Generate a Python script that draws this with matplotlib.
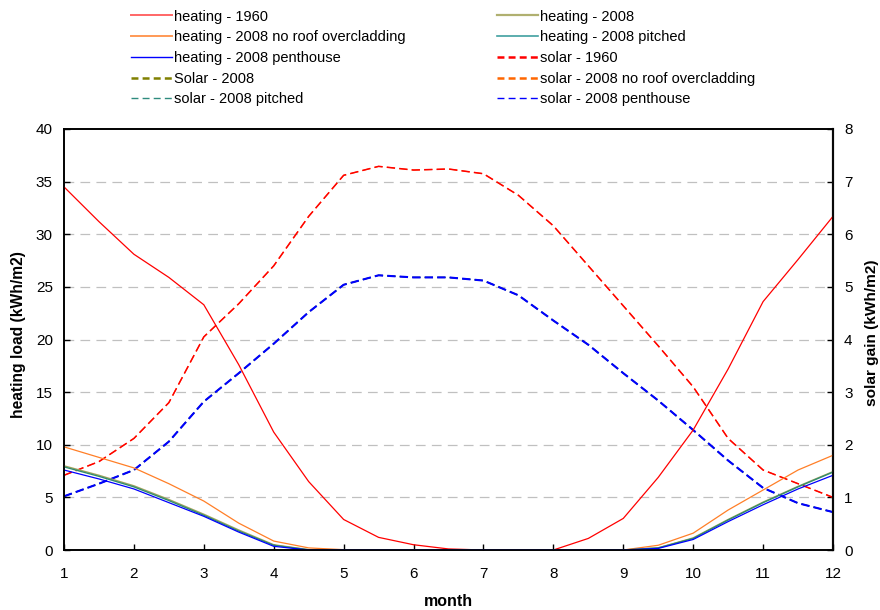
import matplotlib
matplotlib.use("Agg")
import matplotlib.pyplot as plt
from matplotlib.lines import Line2D

plt.rcParams['font.family'] = ['Liberation Sans', 'DejaVu Sans']
plt.rcParams['lines.scale_dashes'] = False

# ---- data ----
months = [1, 1.5, 2, 2.5, 3, 3.5, 4, 4.5, 5, 5.5, 6, 6.5, 7, 7.5, 8, 8.5, 9, 9.5, 10, 10.5, 11, 11.5, 12]

heating_1960 = [34.5, 31.2, 28.1, 25.9, 23.3, 17.6, 11.2, 6.5, 2.9, 1.2, 0.5, 0.1, 0.0, 0.0, 0.0, 1.1, 3.0, 6.9, 11.4, 17.2, 23.6, 27.6, 31.7]
heating_2008 = [8.0, 7.1, 6.1, 4.8, 3.4, 1.9, 0.5, 0.03, 0.0, 0.0, 0.0, 0.0, 0.0, 0.0, 0.0, 0.0, 0.0, 0.2, 1.15, 2.9, 4.55, 6.05, 7.45]
heating_2008_noroof = [9.8, 8.8, 7.8, 6.3, 4.65, 2.55, 0.85, 0.2, 0.03, 0.0, 0.0, 0.0, 0.0, 0.0, 0.0, 0.0, 0.0, 0.45, 1.6, 3.8, 5.7, 7.6, 9.0]
heating_2008_pitched = [7.9, 7.0, 6.0, 4.7, 3.3, 1.8, 0.45, 0.02, 0.0, 0.0, 0.0, 0.0, 0.0, 0.0, 0.0, 0.0, 0.0, 0.2, 1.1, 2.85, 4.5, 6.0, 7.4]
heating_2008_penthouse = [7.6, 6.75, 5.8, 4.5, 3.2, 1.7, 0.35, 0.0, 0.0, 0.0, 0.0, 0.0, 0.0, 0.0, 0.0, 0.0, 0.0, 0.15, 1.0, 2.7, 4.3, 5.8, 7.1]

solar_1960 = [1.42, 1.68, 2.12, 2.80, 4.05, 4.68, 5.40, 6.34, 7.12, 7.29, 7.22, 7.24, 7.15, 6.74, 6.16, 5.40, 4.64, 3.88, 3.10, 2.12, 1.52, 1.26, 1.00]
solar_2008 = [1.02, 1.26, 1.52, 2.06, 2.82, 3.36, 3.92, 4.52, 5.04, 5.22, 5.18, 5.18, 5.12, 4.84, 4.36, 3.90, 3.36, 2.84, 2.28, 1.70, 1.18, 0.89, 0.72]
solar_2008_noroof = [1.42, 1.68, 2.12, 2.80, 4.05, 4.68, 5.40, 6.34, 7.12, 7.29, 7.22, 7.24, 7.15, 6.74, 6.16, 5.40, 4.64, 3.88, 3.10, 2.12, 1.52, 1.26, 1.00]
solar_2008_pitched = [1.02, 1.26, 1.52, 2.06, 2.82, 3.36, 3.92, 4.52, 5.04, 5.22, 5.18, 5.18, 5.12, 4.84, 4.36, 3.90, 3.36, 2.84, 2.28, 1.70, 1.18, 0.89, 0.72]
solar_2008_penthouse = [1.02, 1.26, 1.52, 2.06, 2.82, 3.36, 3.92, 4.52, 5.04, 5.22, 5.18, 5.18, 5.12, 4.84, 4.36, 3.90, 3.36, 2.84, 2.28, 1.70, 1.18, 0.89, 0.72]

left_ticks = [0, 5, 10, 15, 20, 25, 30, 35, 40]
right_ticks = [0, 1, 2, 3, 4, 5, 6, 7, 8]
month_ticks = [1, 2, 3, 4, 5, 6, 7, 8, 9, 10, 11, 12]

# ---- figure ----
fig = plt.figure(figsize=(8.8, 6.1), dpi=100)
W, H = 880, 610
x0, x1, yb, yt = 64, 833, 550, 129
ax = fig.add_axes([x0 / W, 1 - yb / H, (x1 - x0) / W, (yb - yt) / H])
ax2 = ax.twinx()

ax.set_xlim(1, 12)
ax.set_ylim(0, 40)
ax2.set_ylim(0, 8)
ax.set_xticks(month_ticks)
ax.set_yticks(left_ticks)
ax2.set_yticks(right_ticks)

grid_dash = (0, (7, 4.5))
for v in left_ticks[1:-1]:
    ax2.axhline(v / 5.0, color='#C0C0C0', lw=0.9, ls=grid_dash, zorder=0)

c_red = '#FF0000'
c_olive = '#A3A35C'
c_orange = '#FF7F27'
c_teal = '#2E8B6E'
c_blue = '#0000FF'

# solar (right axis) - hidden ones first
s_olive, = ax2.plot(months, solar_2008, color='#808000', lw=1.0, dashes=(6, 3))
s_pitch, = ax2.plot(months, solar_2008_pitched, color='#008080', lw=0.8, dashes=(6, 3))
s_orange, = ax2.plot(months, solar_2008_noroof, color='#FF6600', lw=0.8, dashes=(6, 3))
s_red, = ax2.plot(months, solar_1960, color=c_red, lw=1.1, dashes=(6, 3))
s_blue, = ax2.plot(months, solar_2008_penthouse, color=c_blue, lw=1.5, dashes=(6, 3))

# heating (left axis) drawn on top
ax.set_zorder(ax2.get_zorder() + 1)
ax.patch.set_visible(False)
h_red, = ax.plot(months, heating_1960, color=c_red, lw=0.9)
h_olive, = ax.plot(months, heating_2008, color=c_olive, lw=1.0)
h_orange, = ax.plot(months, heating_2008_noroof, color=c_orange, lw=0.9)
h_teal, = ax.plot(months, heating_2008_pitched, color=c_teal, lw=1.0)
h_blue, = ax.plot(months, heating_2008_penthouse, color=c_blue, lw=0.9)

# spines & ticks
for a in (ax, ax2):
    for s in a.spines.values():
        s.set_linewidth(1.2)
        s.set_color('black')
ax2.spines['right'].set_color('#333333')
ax2.spines['right'].set_linewidth(1.6)

ax.tick_params(axis='x', direction='in', length=4.5, width=1, labelsize=11, pad=12, top=False)
ax.tick_params(axis='y', direction='in', length=4, width=1, labelsize=11, pad=8)
ax2.tick_params(axis='y', direction='in', length=4, width=1, labelsize=11, pad=8)

ax.set_xlabel('month', fontsize=11.5, fontweight='bold', va='center', ha='center')
ax.xaxis.set_label_coords(0.5, (yb - 601) / (yb - yt))
ax.set_ylabel('heating load (kWh/m2)', fontsize=11.25, fontweight='bold', va='center', ha='center')
ax.yaxis.set_label_coords((18.5 - x0) / (x1 - x0), (yb - 335) / (yb - yt))
ax2.set_ylabel('solar gain (kWh/m2)', fontsize=11.1, fontweight='bold', rotation=90, va='center', ha='center')
ax2.yaxis.set_label_coords((871.5 - x0) / (x1 - x0), (yb - 332.5) / (yb - yt))

# legend handles
def lh(color, lw, dashed=False):
    if dashed:
        return Line2D([], [], color=color, lw=lw, dashes=(5, 3))
    return Line2D([], [], color=color, lw=lw)

col1 = [(lh('#FF6666', 1.4), 'heating - 1960'),
        (lh('#FF9955', 1.4), 'heating - 2008 no roof overcladding'),
        (lh(c_blue, 1.0), 'heating - 2008 penthouse'),
        (lh('#808000', 1.8, True), 'Solar - 2008'),
        (lh('#2E8B7E', 1.0, True), 'solar - 2008 pitched')]
col2 = [(lh('#B0B070', 1.6), 'heating - 2008'),
        (lh('#40A0A0', 1.2), 'heating - 2008 pitched'),
        (lh(c_red, 1.8, True), 'solar - 1960'),
        (lh('#FF6600', 1.8, True), 'solar - 2008 no roof overcladding'),
        (lh(c_blue, 1.0, True), 'solar - 2008 penthouse')]

common = dict(loc='upper left', frameon=False, fontsize=10.5, borderpad=0, borderaxespad=0,
              handlelength=2.8, handletextpad=0.15, labelspacing=0.46)
fig.legend([h for h, _ in col1], [t for _, t in col1], bbox_to_anchor=(131 / W, 1 - 9.5 / H), **common)
fig.legend([h for h, _ in col2], [t for _, t in col2], bbox_to_anchor=(497 / W, 1 - 9.5 / H), **common)

fig.savefig('out.png', dpi=100)
